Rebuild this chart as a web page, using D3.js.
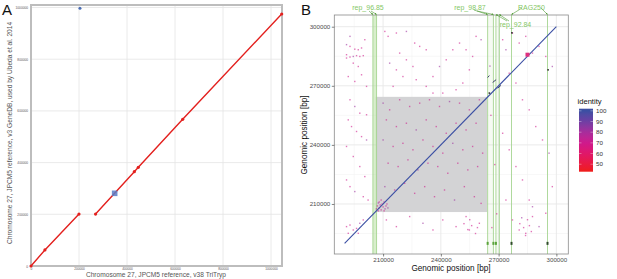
<!DOCTYPE html>
<html>
<head>
<meta charset="utf-8">
<script src="https://cdn.jsdelivr.net/npm/d3@7"></script>
<style>
  body { margin: 0; background: #fff; }
  svg { display: block; font-family: "Liberation Sans", Arial, sans-serif; }
</style>
</head>
<body>
<svg id="fig" width="617" height="279"></svg>
<script>
// ---------- Panel A data (bp) ----------
const aTicks = [0, 200000, 400000, 600000, 800000, 1000000];
const aSegment1 = [[0, 0], [58000, 62000], [200000, 201000]];
const aSegment2 = [[269000, 201000], [430500, 364800], [447200, 381800], [632000, 567500], [1044600, 974900]];
const aBlueDots = [[204000, 996800]];
const aBlueBlocks = [[348600, 281200]];

// ---------- Panel B data (bp / kb) ----------
const bTicks = [210000, 240000, 270000, 300000];
const bMinorTicks = [195000, 225000, 255000, 285000];
const bDiagonal = [[190000, 190000], [300000, 300000]];
const bGrayBox = [206200, 264000, 205900, 264400]; // x0, x1, y0, y1
const regionNames = ["rep_96.85", "rep_98.87", "rep_92.84", "RAG250"];
const regionStart = [204700, 264300, 268600, 276700];
const regionEnd = [206600, 267300, 270400, 295400];
const bottomMarks = [264300, 267300, 268600, 276700, 295400];
const legendTicks = [50, 60, 70, 80, 90, 100];

// off-diagonal short repeats (bp), identity ~ 100
const repeatSegs = [
  [[264300, 274200], [265200, 275200]],
  [[266900, 271700], [268700, 273100]],
  [[269500, 268800], [271200, 270200]]
];
const darkDots = [[265200, 266300], [276900, 296900], [295700, 278100]];
const bigPink = [[285000, 285800]];

// scattered low-identity hits, [x kb, y kb]
const dotsKb = [
  [191.0,290.9],[192.8,290.0],[195.3,288.6],[197.1,288.3],[198.8,289.2],[191.0,285.8],[192.8,284.6],
  [194.5,284.9],[196.2,285.3],[197.9,284.9],[199.7,285.3],[191.0,284.1],[194.5,281.5],[197.1,279.8],
  [192.8,295.1],[200.5,293.4],[191.9,274.7],[195.3,272.2],[198.8,275.6],[201.4,269.7],[192.8,262.9],
  [195.3,259.5],[197.9,256.1],[201.4,255.3],[191.9,252.7],[193.6,249.3],[196.2,246.8],[198.8,244.2],
  [201.4,242.5],[191.0,239.2],[194.5,234.1],[197.9,229.0],[200.5,223.9],[191.0,222.2],[192.8,218.8],
  [195.3,216.3],[199.7,213.7],[202.2,212.0],
  [191.0,198.5],[192.8,199.3],[194.5,196.8],[196.2,197.6],[197.9,200.2],[191.9,195.1],[197.1,195.1],[199.7,201.9],
  [210.9,297.6],[212.6,295.1],[216.9,296.8],[222.1,297.6],[226.4,291.7],[229.0,290.0],[232.4,288.3],
  [218.6,286.6],[222.1,283.2],[225.5,279.8],[213.4,281.5],[216.9,278.1],[220.3,274.7],[215.2,269.7],
  [227.2,273.1],[232.4,269.7],[235.9,274.7],[239.3,279.8],[242.8,283.2],[246.2,288.3],[249.7,291.7],
  [253.1,288.3],[256.5,284.9],[258.3,295.1],[260.9,293.4],[254.8,278.1],[251.4,271.4],[247.9,268.0],
  [241.0,266.3],[235.9,266.3],
  [272.1,293.4],[273.8,288.3],[277.2,296.8],[280.7,291.7],[284.1,295.1],[287.6,286.6],[291.0,290.0],
  [294.5,284.9],[297.9,279.8],[275.5,276.4],[279.0,271.4],[282.4,262.9],[285.9,257.8],[289.3,249.3],
  [292.8,242.5],[296.2,235.8],[272.1,245.9],[275.5,237.5],[279.0,229.0],[282.4,222.2],[285.9,212.0],
  [287.6,203.6],[291.0,198.5],[294.5,205.3],[297.9,218.8],[273.8,212.0],[277.2,201.9],[280.7,196.8],
  [284.1,195.1],[287.6,208.6],
  [281,200],[283,198],[285,202],[287,196],[284,194],[286,199],[282,203],
  [252,200],[254,197],[256,199],[258,195],[255,202],[259,198],
  [210.0,261.2],[213.4,257.8],[218.6,262.9],[223.8,259.5],[229.0,261.2],[234.1,262.9],[239.3,259.5],
  [244.5,262.0],[249.7,261.2],[254.8,257.8],[260.0,262.9],[211.7,252.7],[216.9,249.3],[222.1,251.0],
  [227.2,247.6],[232.4,252.7],[237.6,249.3],[242.8,245.9],[247.9,251.0],[253.1,247.6],[258.3,251.0],
  [210.0,242.5],[215.2,239.2],[220.3,240.8],[225.5,237.5],[230.7,242.5],[235.9,239.2],[241.0,235.8],
  [246.2,240.8],[251.4,237.5],[256.5,239.2],[261.7,235.8],[212.6,230.7],[217.8,229.0],[222.9,232.4],
  [228.1,227.3],[233.3,230.7],[238.4,229.0],[243.6,225.6],[248.8,230.7],[254.0,227.3],[259.1,229.0],
  [210.9,218.8],[216.0,217.1],[221.2,220.5],[226.4,215.4],[231.6,218.8],[236.7,213.7],[241.9,217.1],
  [247.1,212.0],[252.2,218.8],[257.4,213.7],[260.9,210.3],
  [211.7,201.9],[216.9,198.5],[223.8,203.6],[230.7,200.2],[235.9,196.8],[241.0,201.9],[247.9,198.5],
  [253.1,203.6],[254.8,196.8],[260.0,200.2],
  [265.5,280],[266,255],[268,230],[269,205],[266.5,198],
  // cluster at the rep_96.85 end
  [206.5,207.5],[207,209],[207.5,210.5],[208,208],[208.5,209.5],[209,207],[209.5,210],[210,208.5],
  [210.5,211],[211,207.5],[211.5,209],[212,210],[208,211],[209,212],[210.5,206.5],[207.5,206.5],[212.5,208]
];

const svg = d3.select('#fig');

// =============== Panel A ===============
const aX = d3.scaleLinear().domain([0, 1045800]).range([31, 282]);
const aY = d3.scaleLinear().domain([0, 1009700]).range([266, 5]);
const gA = svg.append('g');

// grid
gA.selectAll('.gx').data(aTicks).enter().append('line')
  .attr('x1', d => aX(d)).attr('x2', d => aX(d)).attr('y1', 5).attr('y2', 266)
  .attr('stroke', '#e4e4e4').attr('stroke-width', 0.8);
gA.selectAll('.gy').data(aTicks).enter().append('line')
  .attr('y1', d => aY(d)).attr('y2', d => aY(d)).attr('x1', 31).attr('x2', 282)
  .attr('stroke', '#e4e4e4').attr('stroke-width', 0.8);

// frame
gA.append('rect').attr('x', 31).attr('y', 5).attr('width', 251).attr('height', 261)
  .attr('fill', 'none').attr('stroke', '#bdbdbd').attr('stroke-width', 2);

// ticks + tiny labels
const axA = gA.append('g').attr('transform', 'translate(0,266)')
  .call(d3.axisBottom(aX).tickValues(aTicks).tickSize(0).tickPadding(1.5).tickFormat(d3.format('d')));
const ayA = gA.append('g').attr('transform', 'translate(31,0)')
  .call(d3.axisLeft(aY).tickValues(aTicks).tickSize(0).tickPadding(3).tickFormat(d3.format('d')));
[axA, ayA].forEach(a => {
  a.select('.domain').remove();
  a.selectAll('text').attr('font-size', 3.2).attr('fill', '#555');
});

// alignment segments
const aLine = d3.line().x(d => aX(d[0])).y(d => aY(d[1]));
[aSegment1, aSegment2].forEach(seg => {
  gA.append('path').attr('d', aLine(seg)).attr('fill', 'none')
    .attr('stroke', '#e3201e').attr('stroke-width', 1.4);
  gA.selectAll(null).data(seg).enter().append('circle')
    .attr('cx', d => aX(d[0])).attr('cy', d => aY(d[1])).attr('r', 1.6).attr('fill', '#e3201e');
});
gA.selectAll('.bd').data(aBlueDots).enter().append('circle')
  .attr('cx', d => aX(d[0])).attr('cy', d => aY(d[1])).attr('r', 1.5).attr('fill', '#4a6db4');
gA.selectAll('.bb').data(aBlueBlocks).enter().append('rect')
  .attr('x', d => aX(d[0]) - 2.8).attr('y', d => aY(d[1]) - 2.8).attr('width', 5.6).attr('height', 5.6)
  .attr('fill', '#5b7cc6').attr('opacity', 0.85);

// labels
gA.append('text').attr('x', 156).attr('y', 277).attr('text-anchor', 'middle')
  .attr('font-size', 6.6).attr('fill', '#555')
  .text('Chromosome 27, JPCM5 reference, v38 TriTryp');
gA.append('text').attr('transform', 'translate(12,133) rotate(-90)').attr('text-anchor', 'middle')
  .attr('font-size', 6.6).attr('fill', '#555')
  .text('Chromosome 27, JPCM5 reference, v3 GeneDB, used by Ubeda et al. 2014');
gA.append('text').attr('x', 2).attr('y', 15).attr('font-size', 15).attr('fill', '#111').text('A');

// =============== Panel B ===============
const bX = d3.scaleLinear().domain([184650, 306200]).range([334.3, 568.3]);
const bY = d3.scaleLinear().domain([184600, 305950]).range([254, 15]);
const idColor = d3.scaleLinear()
  .domain([45, 60, 70, 80, 90, 100])
  .range(['#ee1c25', '#e0186a', '#cf1a8c', '#a82c9c', '#6e3ea4', '#3b4fa3'])
  .interpolate(d3.interpolateLab);
const gB = svg.append('g');

gB.append('rect').attr('x', 334.3).attr('y', 15).attr('width', 234).attr('height', 239).attr('fill', '#fff');
// grids
gB.selectAll('.mx').data(bMinorTicks).enter().append('line')
  .attr('x1', d => bX(d)).attr('x2', d => bX(d)).attr('y1', 15).attr('y2', 254)
  .attr('stroke', '#f2f2f2').attr('stroke-width', 0.6);
gB.selectAll('.my').data(bMinorTicks).enter().append('line')
  .attr('y1', d => bY(d)).attr('y2', d => bY(d)).attr('x1', 334.3).attr('x2', 568.3)
  .attr('stroke', '#f2f2f2').attr('stroke-width', 0.6);
gB.selectAll('.Mx').data(bTicks).enter().append('line')
  .attr('x1', d => bX(d)).attr('x2', d => bX(d)).attr('y1', 15).attr('y2', 254)
  .attr('stroke', '#e8e8e8').attr('stroke-width', 0.9);
gB.selectAll('.My').data(bTicks).enter().append('line')
  .attr('y1', d => bY(d)).attr('y2', d => bY(d)).attr('x1', 334.3).attr('x2', 568.3)
  .attr('stroke', '#e8e8e8').attr('stroke-width', 0.9);

// gray box
gB.append('rect')
  .attr('x', bX(bGrayBox[0])).attr('width', bX(bGrayBox[1]) - bX(bGrayBox[0]))
  .attr('y', bY(bGrayBox[3])).attr('height', bY(bGrayBox[2]) - bY(bGrayBox[3]))
  .attr('fill', '#d3d3d5');

// regions
regionNames.forEach((name, i) => {
  const x0 = bX(regionStart[i]), x1 = bX(regionEnd[i]);
  if (name.startsWith('rep')) {
    gB.append('rect').attr('x', x0).attr('width', x1 - x0).attr('y', 15).attr('height', 239)
      .attr('fill', '#a8d98e').attr('opacity', name === 'rep_96.85' ? 0.45 : 0.1);
  }
  [x0, x1].forEach(x => gB.append('line').attr('x1', x).attr('x2', x).attr('y1', 15).attr('y2', 254)
    .attr('stroke', '#a6d592').attr('stroke-width', 0.9));
});

// scattered hits
gB.selectAll('.dot').data(dotsKb).enter().append('rect')
  .attr('x', d => bX(d[0] * 1000) - 0.7).attr('y', d => bY(d[1] * 1000) - 0.7)
  .attr('width', 1.4).attr('height', 1.4)
  .attr('fill', (d, i) => idColor(i % 7 === 0 ? 82 : 70)).attr('opacity', 0.6);

// diagonal
gB.append('line')
  .attr('x1', bX(bDiagonal[0][0])).attr('y1', bY(bDiagonal[0][1]))
  .attr('x2', bX(bDiagonal[1][0])).attr('y2', bY(bDiagonal[1][1]))
  .attr('stroke', idColor(100)).attr('stroke-width', 1.1);

repeatSegs.forEach(s => gB.append('line')
  .attr('x1', bX(s[0][0])).attr('y1', bY(s[0][1])).attr('x2', bX(s[1][0])).attr('y2', bY(s[1][1]))
  .attr('stroke', '#3a3f6a').attr('stroke-width', 1));
gB.selectAll('.dd').data(darkDots).enter().append('rect')
  .attr('x', d => bX(d[0]) - 0.8).attr('y', d => bY(d[1]) - 0.8).attr('width', 1.6).attr('height', 1.6)
  .attr('fill', '#333');
gB.selectAll('.bp').data(bigPink).enter().append('rect')
  .attr('x', d => bX(d[0]) - 2).attr('y', d => bY(d[1]) - 2).attr('width', 4).attr('height', 4)
  .attr('fill', '#e0307e');
gB.selectAll('.bm').data(bottomMarks).enter().append('rect')
  .attr('x', d => bX(d) - 1).attr('y', bY(190000) - 1.5).attr('width', 2).attr('height', 3)
  .attr('fill', (d, i) => i < 3 ? '#5aa33a' : '#2f4a2a');

// border
gB.append('rect').attr('x', 334.3).attr('y', 15).attr('width', 234).attr('height', 239)
  .attr('fill', 'none').attr('stroke', '#8a8a8a').attr('stroke-width', 0.8);

// axes
const bxAxis = gB.append('g').attr('transform', 'translate(0,254)')
  .call(d3.axisBottom(bX).tickValues(bTicks).tickSize(2.5).tickPadding(1.5).tickFormat(d3.format('d')));
const byAxis = gB.append('g').attr('transform', 'translate(334.3,0)')
  .call(d3.axisLeft(bY).tickValues(bTicks).tickSize(2.5).tickPadding(1.5).tickFormat(d3.format('d')));
[bxAxis, byAxis].forEach(a => {
  a.select('.domain').remove();
  a.selectAll('line').attr('stroke', '#333').attr('stroke-width', 0.6);
  a.selectAll('text').attr('font-size', 6.2).attr('fill', '#4d4d4d');
});
gB.append('text').attr('x', 451).attr('y', 271).attr('text-anchor', 'middle')
  .attr('font-size', 8.2).attr('fill', '#111').text('Genomic position [bp]');
gB.append('text').attr('transform', 'translate(307,135) rotate(-90)').attr('text-anchor', 'middle')
  .attr('font-size', 8.2).attr('fill', '#111').text('Genomic position [bp]');

// region annotations with arrows
const labelPos = { 'rep_96.85': [368, 9.5], 'rep_98.87': [470, 9.5], 'rep_92.84': [515.5, 26.5], 'RAG250': [531.5, 9.5] };
const arrowFrom = { 'rep_96.85': [[369, 11], [371, 11]], 'rep_98.87': [[474, 10], [477, 11]],
  'rep_92.84': [[507, 21], [509, 21]], 'RAG250': [[522, 8], [541, 8]] };
const defs = svg.append('defs');
defs.append('marker').attr('id', 'arr').attr('viewBox', '0 0 10 10').attr('refX', 9).attr('refY', 5)
  .attr('markerWidth', 3.5).attr('markerHeight', 3.5).attr('orient', 'auto')
  .append('path').attr('d', 'M0,0L10,5L0,10z').attr('fill', '#4f9a34');
regionNames.forEach((name, i) => {
  const ends = [bX(regionStart[i]), bX(regionEnd[i])];
  arrowFrom[name].forEach((p, k) => gB.append('line')
    .attr('x1', p[0]).attr('y1', p[1]).attr('x2', ends[k]).attr('y2', 14.5)
    .attr('stroke', '#4f9a34').attr('stroke-width', 0.6).attr('marker-end', 'url(#arr)'));
  gB.append('text').attr('x', labelPos[name][0]).attr('y', labelPos[name][1])
    .attr('text-anchor', 'middle').attr('font-size', 7).attr('fill', '#85c766').text(name);
});
gB.append('text').attr('x', 301).attr('y', 15).attr('font-size', 15).attr('fill', '#111').text('B');

// legend
const legY = d3.scaleLinear().domain([43, 102]).range([171.7, 108.7]);
const grad = defs.append('linearGradient').attr('id', 'idgrad')
  .attr('x1', 0).attr('x2', 0).attr('y1', 1).attr('y2', 0);
d3.range(43, 102.01, 3).forEach(v => grad.append('stop')
  .attr('offset', (v - 43) / 59).attr('stop-color', idColor(v)));
const gL = svg.append('g');
gL.append('text').attr('x', 577.5).attr('y', 104).attr('font-size', 7.6).attr('fill', '#111').text('identity');
gL.append('rect').attr('x', 579).attr('y', 108.7).attr('width', 14).attr('height', 63).attr('fill', 'url(#idgrad)');
gL.selectAll('.lt').data(legendTicks).enter().append('line')
  .attr('x1', 579).attr('x2', 581.5).attr('y1', d => legY(d)).attr('y2', d => legY(d))
  .attr('stroke', '#fff').attr('stroke-width', 0.5).attr('opacity', 0.7);
gL.selectAll('.lt2').data(legendTicks).enter().append('line')
  .attr('x1', 590.5).attr('x2', 593).attr('y1', d => legY(d)).attr('y2', d => legY(d))
  .attr('stroke', '#fff').attr('stroke-width', 0.5).attr('opacity', 0.7);
gL.selectAll('.ll').data(legendTicks).enter().append('text')
  .attr('x', 596).attr('y', d => legY(d) + 2.2).attr('font-size', 6.2).attr('fill', '#333').text(d => d);
</script>
</body>
</html>
